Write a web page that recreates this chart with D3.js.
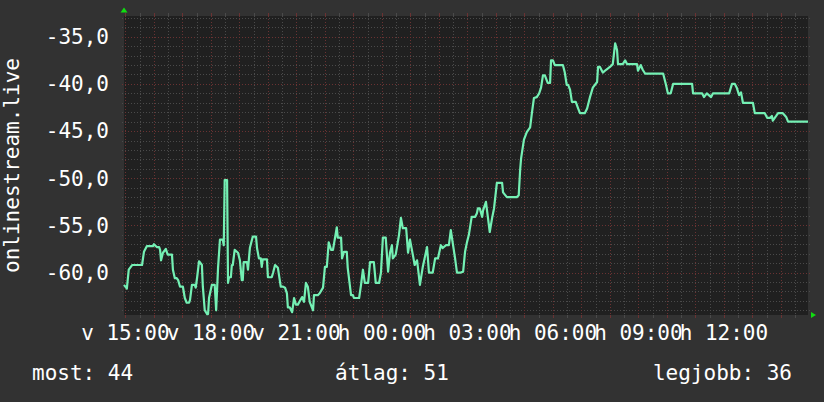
<!DOCTYPE html>
<html>
<head>
<meta charset="utf-8">
<title>onlinestream.live</title>
<script src="https://cdn.jsdelivr.net/npm/d3@7"></script>
<style>
  body { margin: 0; background: #323232; }
  svg { display: block; }
  text { font-family: "DejaVu Sans Mono", monospace; font-size: 21px; fill: #ffffff; }
</style>
</head>
<body>
<svg id="chart" width="824" height="402"></svg>
<script>
// minutes after Sunday 15:00 and the level read at that moment
var minutes = [-3, 3, 7, 14, 35, 39, 45, 58, 60, 66, 71, 73, 75, 79, 85, 89, 98, 100, 104, 108,
  111, 115, 121, 125, 129, 134, 136, 140, 146, 148, 151, 155, 161, 163, 167, 172, 174, 176, 182, 188,
  191, 195, 199, 205, 207, 209, 214, 216, 218, 222, 224, 226, 230, 237, 241, 245, 247, 249, 256, 258,
  262, 268, 275, 277, 281, 285, 287, 289, 298, 300, 308, 311, 315, 321, 327, 332, 336, 340, 342, 346,
  351, 355, 359, 363, 372, 376, 380, 384, 388, 395, 397, 405, 409, 416, 420, 424, 428,
  433, 437, 445, 447, 454, 456, 460, 466, 468, 475, 479, 481, 492, 496, 500, 504, 511, 515, 523, 527,
  534, 538, 542, 548, 553, 557, 561, 563, 569, 576, 580, 584, 591, 595, 599, 605, 609, 614, 620, 626,
  635, 639, 647, 652, 658, 664, 668, 675, 681, 685, 694, 698, 706, 711, 715, 719, 723, 729, 736, 740,
  742, 746, 751, 753, 759, 763, 767, 772, 776, 782, 793, 795, 803, 824, 828, 831,
  833, 839, 845, 852, 856, 860, 866, 871, 875, 879, 883, 889, 894, 896, 900, 904, 921, 925, 929, 932,
  936, 940, 948, 953, 957, 967, 972, 978, 984, 993, 995, 999, 1005, 1012, 1020, 1026, 1031, 1035, 1037, 1047,
  1052, 1056, 1077, 1079, 1085, 1089, 1094, 1132, 1138, 1142, 1148, 1153, 1193, 1195, 1214, 1218, 1224, 1233, 1237, 1271,
  1277, 1283, 1287, 1292, 1296, 1300, 1321, 1325, 1346, 1351, 1357, 1361, 1363, 1370, 1374, 1384, 1391, 1395, 1437];

var level = [-61.3, -61.7, -59.7, -59.2, -59.2, -57.8, -57.2, -57.2, -57.0, -57.3, -57.3, -57.6, -58.7, -57.9, -57.5, -58.1, -58.1, -59.7, -60.6, -60.6,
  -60.8, -61.5, -61.5, -62.7, -63.2, -63.2, -62.9, -61.3, -61.3, -61.6, -60.5, -58.8, -59.2, -61.5, -64.0, -64.4, -64.4, -62.7, -61.3, -61.3,
  -64.0, -59.5, -56.5, -56.5, -57.1, -50.2, -50.2, -61.1, -60.5, -60.5, -59.2, -59.2, -57.6, -57.9, -58.7, -60.8, -60.8, -58.9, -58.9, -59.7,
  -57.4, -56.2, -56.2, -57.4, -58.5, -58.5, -59.4, -58.6, -58.6, -60.5, -60.5, -60.0, -59.2, -59.5, -61.5, -61.5, -61.6, -62.2, -63.7, -63.7,
  -64.2, -62.7, -63.4, -63.4, -62.6, -63.1, -61.1, -61.5, -63.1, -64.0, -62.4, -62.4, -62.2, -61.6, -59.4, -59.4, -56.8,
  -57.6, -57.6, -55.2, -56.3, -56.3, -58.5, -57.8, -57.8, -59.5, -62.4, -62.4, -62.7, -62.7, -61.3, -59.7, -61.1, -61.1, -58.9, -58.9, -61.1,
  -61.1, -60.0, -56.3, -56.3, -59.9, -57.9, -57.1, -58.5, -58.1, -56.0, -54.2, -55.3, -55.3, -57.9, -56.5, -58.1, -59.2, -58.7, -61.3, -59.4,
  -57.3, -60.0, -60.0, -58.5, -58.5, -57.1, -57.4, -57.1, -57.1, -55.5, -58.5, -60.0, -60.0, -59.9, -57.8, -56.8, -56.0, -54.1, -54.1, -53.7,
  -53.2, -53.2, -54.1, -53.4, -52.5, -54.1, -55.7, -54.2, -53.2, -50.5, -50.5, -51.5, -52.0, -52.0, -51.8, -49.1,
  -47.9, -45.9, -45.1, -44.6, -43.0, -41.5, -41.4, -41.0, -40.4, -39.1, -39.1, -39.9, -39.9, -37.5, -37.5, -38.0, -38.0, -38.8, -40.1, -40.1,
  -40.6, -41.9, -41.9, -42.6, -43.1, -43.1, -42.6, -41.4, -40.4, -39.8, -38.2, -38.2, -38.8, -38.5, -38.2, -37.9, -35.7, -36.4, -37.9, -37.9,
  -37.5, -37.9, -37.9, -38.6, -38.0, -38.5, -38.9, -38.9, -40.1, -41.0, -41.0, -40.0, -40.0, -41.0, -41.0, -41.4, -41.0, -41.4, -41.0, -41.0,
  -40.0, -40.0, -40.4, -41.2, -40.9, -42.0, -42.0, -43.1, -43.1, -43.6, -43.6, -43.4, -43.9, -43.4, -43.1, -43.1, -43.5, -44.0, -44.0];

var yTicks = [-60, -55, -50, -45, -40, -35];
var dayNames = ['v', 'h', 'k', 'sze', 'cs', 'p', 'szo'];
var legendLabels = ['most', 'átlag', 'legjobb'];
var legendValues = [44, 51, 36];
var yTitle = 'onlinestream.live';

var plotLeft = 124, plotRight = 808, plotTop = 16, plotBottom = 315;

var svg = d3.select('#chart');
svg.append('rect').attr('width', 824).attr('height', 402).attr('fill', '#323232');

var start = new Date(2024, 0, 7, 15, 0); // a Sunday
var x = d3.scaleTime()
  .domain([d3.timeMinute.offset(start, -3), d3.timeMinute.offset(start, 1437)])
  .range([plotLeft, plotRight]);
var y = d3.scaleLinear().domain([-64.5, -32.8]).range([plotBottom, plotTop]);

var data = minutes.map(function (m, i) {
  return { t: d3.timeMinute.offset(start, m), v: level[i] };
});

var hu = d3.formatLocale({ decimal: ',', thousands: ' ', grouping: [3], currency: ['', ' Ft'], minus: '-' });
var fmtY = hu.format('.1f');
var fmtHM = d3.timeFormat('%H:%M');
var gridColor = function (major) { return major ? '#6a3232' : '#4a4a4a'; };

// plot area
svg.append('rect')
  .attr('x', plotLeft).attr('y', plotTop)
  .attr('width', plotRight - plotLeft).attr('height', plotBottom - plotTop)
  .attr('fill', '#202020');

var grid = svg.append('g').attr('shape-rendering', 'crispEdges');

// horizontal grid, one per unit, red every 5
var hLines = d3.range(-64, -32);
grid.selectAll('line.h').data(hLines).enter().append('line')
  .attr('x1', plotLeft - 2).attr('x2', plotRight + 2)
  .attr('y1', function (d) { return Math.round(y(d)) + 0.5; })
  .attr('y2', function (d) { return Math.round(y(d)) + 0.5; })
  .attr('stroke', function (d) { return gridColor(d % 5 === 0); })
  .attr('stroke-dasharray', '1,2');

// vertical grid, every 30 minutes, red on the hour
var vLines = x.ticks(d3.timeMinute.every(30));
grid.selectAll('line.v').data(vLines).enter().append('line')
  .attr('x1', function (d) { return Math.round(x(d)) + 0.5; })
  .attr('x2', function (d) { return Math.round(x(d)) + 0.5; })
  .attr('y1', plotTop).attr('y2', plotBottom)
  .attr('stroke', function (d) { return gridColor(d.getMinutes() === 0); })
  .attr('stroke-dasharray', '1,2');

// small solid ticks outside the frame
[[plotTop - 3, plotTop], [plotBottom, plotBottom + 3]].forEach(function (r) {
  grid.selectAll(null).data(vLines).enter().append('line')
    .attr('x1', function (d) { return Math.round(x(d)) + 0.5; })
    .attr('x2', function (d) { return Math.round(x(d)) + 0.5; })
    .attr('y1', r[0]).attr('y2', r[1])
    .attr('stroke', function (d) { return gridColor(d.getMinutes() === 0); });
});

// the series
svg.append('path')
  .datum(data)
  .attr('fill', 'none')
  .attr('stroke', '#74f0b4')
  .attr('stroke-width', 2.2)
  .attr('stroke-linejoin', 'round')
  .attr('d', d3.line().x(function (d) { return x(d.t); }).y(function (d) { return y(d.v); }));

// arrows at the axis ends
svg.append('path').attr('fill', '#11dd11')
  .attr('d', 'M' + (plotLeft - 3.5) + ',' + (plotTop - 3.5) + 'L' + (plotLeft + 3.5) + ',' + (plotTop - 3.5) + 'L' + plotLeft + ',' + (plotTop - 8.5) + 'Z');
svg.append('path').attr('fill', '#11dd11')
  .attr('d', 'M' + (plotRight + 3) + ',' + (plotBottom - 3) + 'L' + (plotRight + 3) + ',' + (plotBottom + 3) + 'L' + (plotRight + 8) + ',' + plotBottom + 'Z');

// y labels
svg.selectAll('text.ytick').data(yTicks).enter().append('text')
  .attr('x', 109)
  .attr('y', function (d) { return y(d); })
  .attr('dy', '0.35em')
  .attr('text-anchor', 'end')
  .text(function (d) { return fmtY(d); });

// x labels every 3 hours
svg.selectAll('text.xtick').data(x.ticks(d3.timeHour.every(3))).enter().append('text')
  .attr('x', function (d) { return x(d); })
  .attr('y', 340)
  .attr('text-anchor', 'middle')
  .text(function (d) { return dayNames[d.getDay()] + ' ' + fmtHM(d); });

// axis title
svg.append('text')
  .attr('transform', 'translate(18.5,' + ((plotTop + plotBottom) / 2) + ') rotate(-90)')
  .attr('text-anchor', 'middle')
  .text(yTitle);

// legend
var legendX = [32, 392, 792];
var legendAnchor = ['start', 'middle', 'end'];
svg.selectAll('text.legend').data(legendLabels).enter().append('text')
  .attr('x', function (d, i) { return legendX[i]; })
  .attr('y', 380)
  .attr('text-anchor', function (d, i) { return legendAnchor[i]; })
  .text(function (d, i) { return d + ': ' + legendValues[i]; });
</script>
</body>
</html>
